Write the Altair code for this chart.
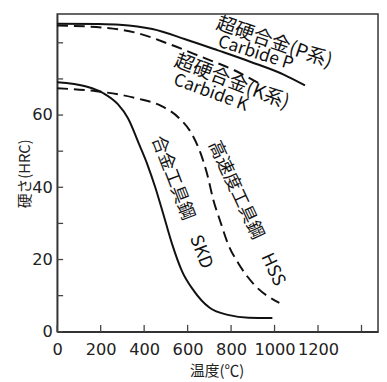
import altair as alt
import pandas as pd

# ---- data ----
temp_carbide_p = [0, 190, 287, 438, 589, 740, 891, 1042, 1140]
hrc_carbide_p = [85.3, 85.2, 85.0, 83.8, 81.0, 77.9, 74.7, 71.2, 68.2]

temp_carbide_k = [0, 212, 362, 513, 664, 815, 928]
hrc_carbide_k = [84.8, 84.2, 82.8, 79.7, 76.1, 72.4, 68.8]

temp_skd = [0, 134, 211, 279, 325, 379, 415, 451, 488, 528, 574, 628, 700, 791, 881, 990]
hrc_skd = [69.1, 67.9, 66.1, 63.0, 59.2, 51.6, 46.3, 40.0, 32.6, 24.4, 16.8, 11.4, 6.7, 4.6, 3.9, 3.8]

temp_hss = [0, 180, 361, 483, 560, 619, 660, 691, 718, 750, 786, 836, 904, 1022]
hrc_hss = [67.4, 66.6, 64.7, 62.4, 59.2, 54.8, 49.4, 43.4, 36.6, 30.6, 24.3, 18.7, 13.2, 8.0]

x_ticks = [0, 200, 400, 600, 800, 1000, 1200, 1400]
y_ticks = [0, 10, 20, 30, 40, 50, 60, 70, 80]

label_text = ["超硬合金(P系)", "Carbide P", "超硬合金(K系)", "Carbide K", "合金工具鋼　SKD", "高速度工具鋼　HSS"]
label_x = [999, 913, 804, 707, 572, 870]
label_y = [80.1, 77.1, 69.2, 66.1, 35.8, 32.7]
label_angle = [19, 17.5, 21, 20, 69, 65]
label_size = [19.5, 17.5, 19.5, 17.5, 18, 18]

FONT = "Noto Sans CJK JP"
NUMFONT = "DejaVu Sans"
W, H = 326, 323

def series(name, xs, ys):
    return pd.DataFrame({"temp": xs, "hrc": ys, "series": name, "i": range(len(xs))})

solid_df = pd.concat([series("P", temp_carbide_p, hrc_carbide_p), series("SKD", temp_skd, hrc_skd)])
dashed_df = pd.concat([series("K", temp_carbide_k, hrc_carbide_k), series("HSS", temp_hss, hrc_hss)])

xscale = alt.Scale(domain=[0, 1476], nice=False, zero=False)
yscale = alt.Scale(domain=[0, 88], nice=False, zero=False)

common = dict(ticks=False, domain=True, domainColor="#333", domainWidth=1.5, grid=False,
              labelFont=NUMFONT, labelFontSize=16.5, labelColor="#222",
              labelOverlap=False, labelBound=False, labelFlush=False,
              titleFont=FONT, titleFontSize=15, titleFontWeight="normal", titleColor="#222",
              titleAlign="center", titleBaseline="middle")

xaxis = alt.Axis(values=x_ticks,
                 labelExpr="datum.value == 1400 ? '' : '' + datum.value",
                 labelPadding=10, title="温度(℃)", titleX=162, titleY=39, **common)
yaxis = alt.Axis(values=y_ticks,
                 labelExpr="(datum.value % 20 == 0 && datum.value <= 60) ? '' + datum.value : ''",
                 labelPadding=5, title="硬さ(HRC)", titleAngle=270, titleX=-33, titleY=162,
                 **common)

X = lambda f: alt.X(f, scale=xscale, axis=xaxis)
Y = lambda f: alt.Y(f, scale=yscale, axis=yaxis)

solid = alt.Chart(solid_df).mark_line(color="#111", strokeWidth=2, interpolate="monotone").encode(
    x=X("temp:Q"), y=Y("hrc:Q"), detail="series:N", order="i:Q",
)
dashed = alt.Chart(dashed_df).mark_line(color="#111", strokeWidth=2, strokeDash=[11, 6],
                                        interpolate="monotone").encode(
    x=X("temp:Q"), y=Y("hrc:Q"), detail="series:N", order="i:Q",
)

xt = alt.Chart(pd.DataFrame({"temp": x_ticks})).mark_rule(color="#444", strokeWidth=1.3).encode(
    x=X("temp:Q"), y=alt.value(H), y2=alt.value(H - 7),
)
yt = alt.Chart(pd.DataFrame({"hrc": y_ticks})).mark_rule(color="#444", strokeWidth=1.3).encode(
    y=Y("hrc:Q"), x=alt.value(0), x2=alt.value(6),
)

labels_df = pd.DataFrame({"temp": label_x, "hrc": label_y, "t": label_text,
                          "a": label_angle, "s": label_size})
labels = alt.Chart(labels_df).mark_text(font=FONT, color="#111",
                                         align="center", baseline="middle").encode(
    x=X("temp:Q"), y=Y("hrc:Q"),
    text="t:N",
    angle=alt.Angle("a:Q", scale=None),
    size=alt.Size("s:Q", scale=None, legend=None),
)

chart = alt.layer(solid, dashed, xt, yt, labels).properties(
    width=W, height=H,
    background="white",
    autosize=alt.AutoSizeParams(type="none"),
    padding={"left": 50, "top": 3, "right": 1, "bottom": 46},
).configure_view(stroke="#333", strokeWidth=1.5)

chart.save("out.html", embed_options={"renderer": "svg", "actions": False})
